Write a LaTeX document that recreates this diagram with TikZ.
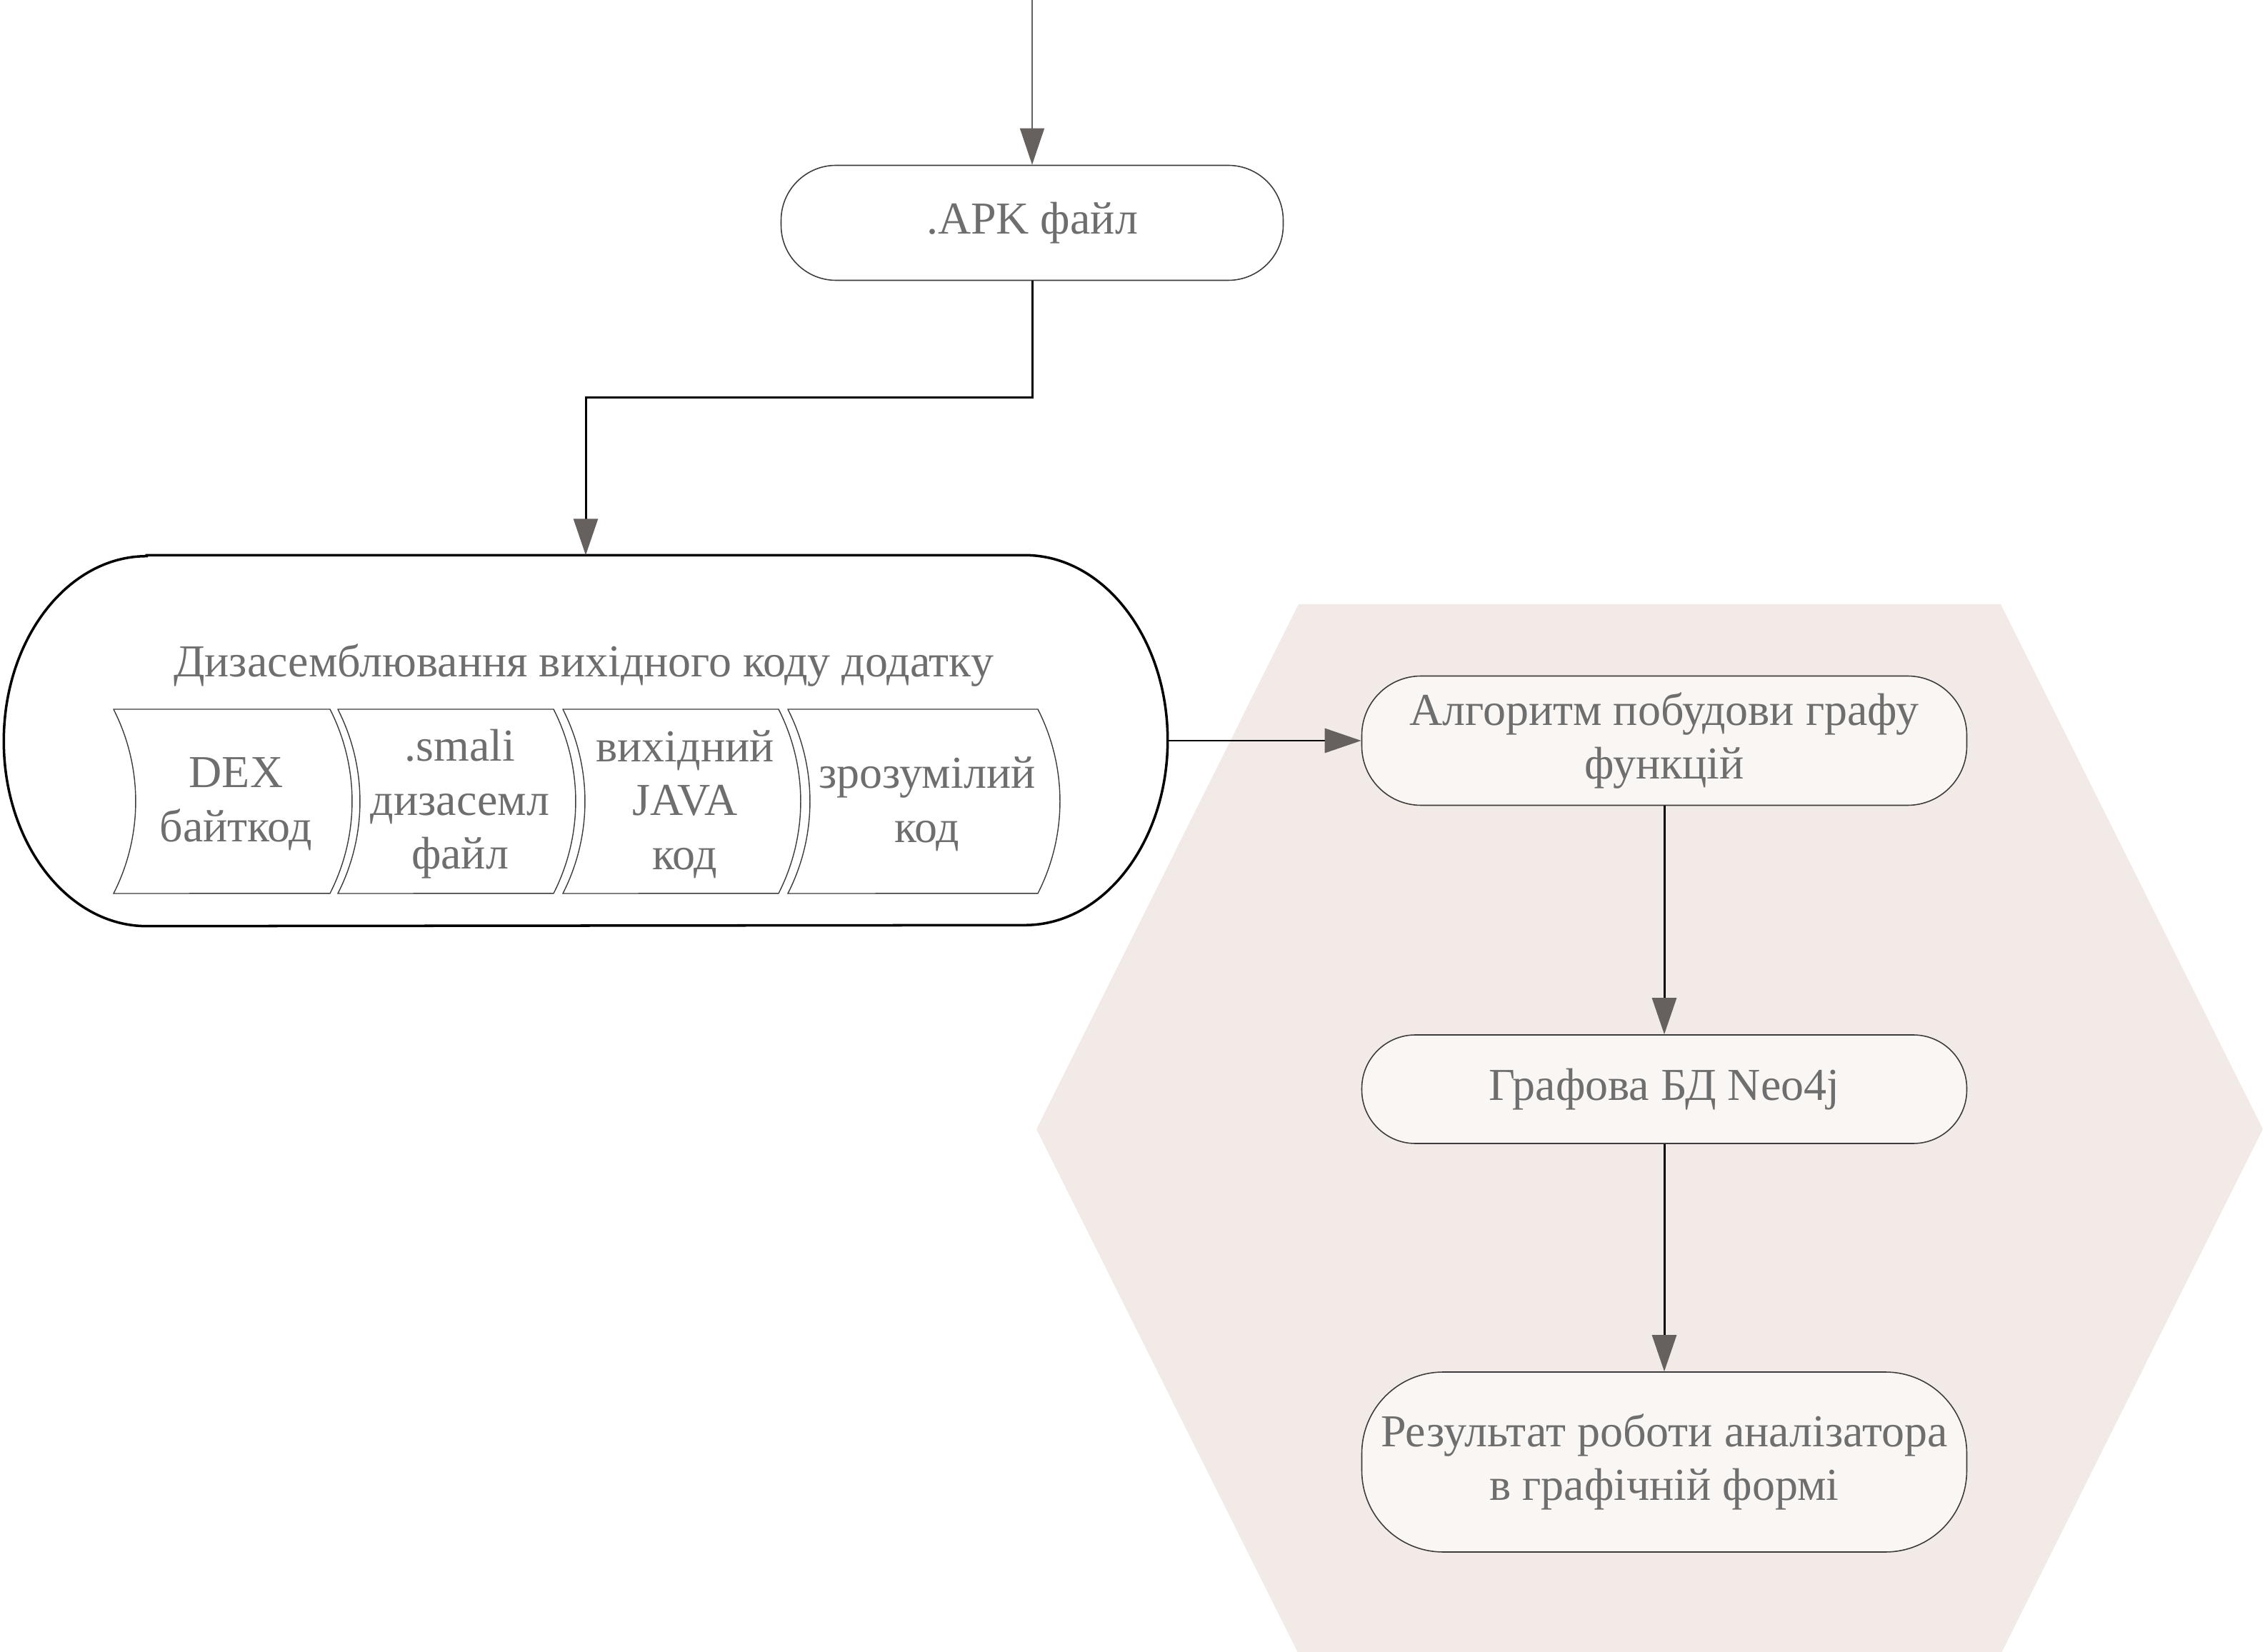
\documentclass[tikz,border=0pt]{standalone}
\usepackage{fontspec}
\setmainfont{Liberation Serif}
\usetikzlibrary{arrows.meta}
\definecolor{hexfill}{HTML}{F2EAE6}
\definecolor{boxfill}{HTML}{F9F6F4}
\definecolor{txtgray}{HTML}{6E6E6E}
\definecolor{tipgray}{HTML}{66615E}
\definecolor{framegray}{HTML}{3C3C3C}

\begin{document}
\begin{tikzpicture}[
  every node/.style={font=\fontsize{18.2}{21.5}\selectfont, text=txtgray, align=center},
  term/.style={draw=framegray, line width=0.45pt, minimum width=8.47cm, inner sep=0pt},
  flow/.style={line width=0.85pt, -{Triangle[width=0.34cm,length=0.51cm,color=tipgray]}}
  ]
  \useasboundingbox (0,0) rectangle (31.71,-23.13);
  % hexagon behind the analysis part
  \fill[hexfill] (18.18,-8.46) -- (28.01,-8.46) -- (31.68,-15.81) -- (28.01,-23.16) -- (18.18,-23.16) -- (14.51,-15.81) -- cycle;

  \coordinate (start) at (14.45,0);
  \node[term, fill=white, minimum width=7.03cm, minimum height=1.61cm, rounded corners=0.77cm] (apk) at (14.45,-3.12) {.APK файл};

  % disassembly block
  \node[minimum width=16.28cm, minimum height=5.18cm, inner sep=0pt] (dis) at (8.20,-10.37) {};
  \draw[line width=1pt] ([xshift=2cm]dis.north west) -- ([xshift=-2cm]dis.north east) arc[start angle=90,end angle=-90,x radius=2cm,y radius=2.59cm] -- ([xshift=2cm]dis.south west) arc[start angle=270,end angle=90,x radius=2cm,y radius=2.59cm] -- cycle;
  \node (distitle) at (8.17,-9.32) {Дизасемблювання вихідного коду додатку};
  \foreach \xl/\xr/\nm/\txt in {1.59/4.62/dex/{DEX\\байткод}, 4.73/7.75/smali/{.smali\\дизасемл\\файл}, 7.88/10.90/java/{вихідний\\JAVA\\код}, 11.03/14.53/plain/{зрозумілий\\код}} {
    \draw[framegray, line width=0.4pt] (\xl,-9.93) -- (\xr,-9.93) arc[start angle=27,end angle=-27,radius=2.84] -- (\xl,-12.51) arc[start angle=-27,end angle=27,radius=2.84] -- cycle;
    \node (\nm) at ({(\xl+\xr)/2+0.2},-11.26) {\txt};
  }

  % analysis
  \node[term, fill=boxfill, minimum height=1.81cm, rounded corners=0.83cm] (alg) at (23.30,-10.37) {Алгоритм побудови графу\\функцій};
  \node[term, fill=boxfill, minimum height=1.52cm, rounded corners=0.75cm] (graf) at (23.30,-15.25) {Графова БД Neo4j};
  \node[term, fill=boxfill, minimum height=2.52cm, rounded corners=1.14cm] (res) at (23.30,-20.47) {Результат роботи аналізатора\\в графічній формі};

  \draw[line width=0.45pt, draw=tipgray, -{Triangle[width=0.34cm,length=0.51cm,color=tipgray]}] (start) -- (apk.north);
  \draw[flow] (apk.south) -- ++(0,-1.63) -| (dis.north);
  \draw[flow] (dis.east) -- (alg.west);
  \draw[flow] (alg.south) -- (graf.north);
  \draw[flow] (graf.south) -- (res.north);
\end{tikzpicture}
\end{document}
